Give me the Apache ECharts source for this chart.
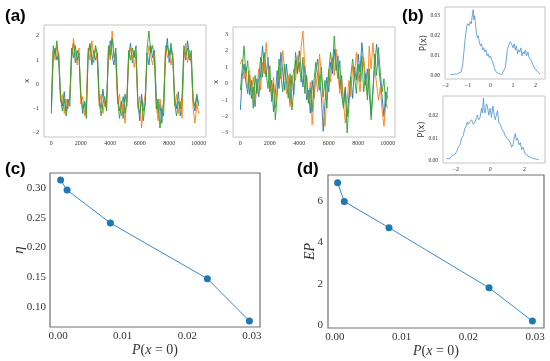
<!DOCTYPE html>
<html><head><meta charset="utf-8">
<script src="https://cdn.jsdelivr.net/npm/echarts@6/dist/echarts.min.js"></script>
<style>html,body{margin:0;padding:0;background:#fff}#c{width:550px;height:361px}</style>
</head><body><div id="c"></div>
<script>
// ---- (a) time series, sampled every tStep steps ----
const tStep = 125;
const leftBlue = [-1.2,1.1,1.5,1.0,1.3,-0.5,-0.9,-0.3,-1.1,-0.6,-0.9,1.3,1.7,0.9,1.4,1.1,-0.4,-1.2,-0.7,-1.0,1.2,1.6,0.8,1.4,1.0,1.3,-0.6,-1.0,-0.2,-0.9,-0.6,1.1,1.8,1.2,0.8,1.5,-0.5,-1.1,-0.7,-1.4,-0.4,-0.9,1.2,1.7,0.9,1.4,1.0,-0.7,-1.5,-0.4,-1.1,-0.8,1.3,0.8,1.6,1.1,1.4,-0.5,-1.2,-0.8,-1.6,-0.6,1.2,1.9,0.9,1.5,1.1,-0.6,-1.0,-0.3,-1.3,-0.8,1.4,1.0,1.8,1.2,0.9,-0.7,-1.1,-0.5,-0.9];
const leftOrange = [-0.7,1.4,1.0,1.6,1.2,-0.7,-0.4,-1.2,-0.6,-1.0,-0.5,1.0,1.9,1.3,0.8,1.5,-0.8,-0.5,-1.3,-0.6,1.5,1.0,1.8,1.1,1.5,0.9,-0.9,-0.4,-1.2,-0.7,-1.0,1.4,1.0,2.2,1.3,0.9,-0.8,-0.4,-1.3,-0.8,-1.6,-0.6,1.0,1.5,1.2,0.7,1.3,-1.0,-0.5,-1.8,-0.9,-0.4,1.0,1.6,1.2,0.8,1.3,-0.9,-1.5,-0.6,-1.1,-0.8,1.6,1.1,1.4,0.8,1.3,-0.9,-0.4,-1.2,-0.7,-1.4,1.1,1.7,0.9,1.4,1.0,-1.0,-1.6,-0.8,-1.2];
const leftGreen = [-0.9,1.6,1.2,1.8,0.9,-0.6,-1.1,-0.6,-1.3,-0.8,-0.6,1.5,1.1,1.6,1.0,1.3,-0.5,-1.0,-0.8,-1.4,1.3,1.7,1.1,0.9,1.6,1.2,-0.7,-1.3,-0.8,-0.5,-1.1,1.6,1.2,1.9,1.1,1.3,-0.6,-1.4,-0.9,-0.5,-1.2,-0.7,1.4,1.0,1.5,1.1,1.6,-0.8,-1.2,-0.6,-1.5,-0.7,1.5,2.2,1.3,1.6,1.0,-1.0,-0.6,-1.8,-1.0,-1.3,1.3,1.6,1.2,1.7,1.0,-0.8,-1.3,-0.7,-1.0,-0.5,1.6,1.2,1.5,1.0,1.4,-0.6,-0.9,-0.4,-0.8];
const rightBlue = [-1.6,0.4,1.2,0.1,-0.6,0.5,-0.9,-0.2,-1.4,0.3,-0.8,0.6,2.3,1.1,0.4,1.6,-0.5,0.2,-1.7,-0.6,0.8,-0.3,1.9,0.7,-0.4,1.2,0.1,-1.2,0.5,-0.7,1.4,0.6,2.0,0.9,-0.2,1.1,-1.0,-0.4,-1.8,0.2,-0.9,0.7,1.5,0.3,-0.8,-2.9,-1.1,0.4,-0.5,1.3,0.6,2.1,0.8,1.7,-0.3,0.5,-1.3,-0.2,-2.0,-0.7,0.4,-0.9,1.0,0.2,1.8,0.7,2.5,1.2,-0.1,0.9,-0.6,-1.9,-0.4,1.1,2.4,1.3,0.1,-0.8,-2.0,-0.5,-0.9];
const rightOrange = [1.2,1.5,0.3,1.0,-0.3,0.8,-0.5,0.4,-1.1,-0.2,0.9,-0.4,1.3,0.6,2.5,1.0,0.2,-0.8,0.4,-1.5,-0.3,1.0,0.3,2.0,0.8,-0.6,0.5,-1.4,-0.3,0.9,0.2,1.7,0.7,2.2,3.2,1.0,0.3,-1.1,0.1,-2.5,-0.9,0.5,-0.5,1.8,0.6,-1.2,-2.6,-0.7,0.9,0.1,1.6,0.5,2.1,0.7,-0.6,0.3,-1.1,-2.4,-1.0,0.2,-0.8,1.1,0.4,1.9,0.6,-0.5,0.8,1.6,0.3,-0.7,2.3,0.9,2.5,1.0,0.0,-1.0,-0.2,-1.6,-2.6,-1.2,-1.5];
const rightGreen = [-0.4,0.9,2.3,0.6,1.4,-0.7,0.2,-1.5,0.5,-0.6,0.3,1.6,0.4,1.9,0.7,-0.3,1.1,-1.1,0.0,-2.2,-0.7,1.5,0.5,-0.5,1.2,0.2,-0.9,0.6,-1.6,-0.4,1.9,0.8,1.3,0.1,1.6,-0.6,0.5,-1.2,-0.3,-1.7,0.2,1.3,0.5,-0.4,1.0,-0.8,0.2,-1.5,0.7,1.9,0.9,2.9,1.2,0.3,1.4,-0.7,-1.5,-0.3,-3.0,-1.2,0.5,1.5,0.4,-0.6,1.2,0.1,1.7,-0.5,0.6,-1.0,0.9,-2.2,-0.6,1.8,0.5,2.2,0.7,-0.5,0.3,-1.4,-0.2];

// ---- (b) distributions ----
const pTopX = [-1.78,-1.6,-1.5,-1.4,-1.3,-1.23,-1.18,-1.12,-1.05,-1.0,-0.95,-0.9,-0.85,-0.8,-0.77,-0.74,-0.7,-0.66,-0.62,-0.58,-0.54,-0.5,-0.45,-0.4,-0.35,-0.3,-0.25,-0.2,-0.15,-0.1,-0.05,0.0,0.05,0.1,0.15,0.2,0.25,0.3,0.4,0.5,0.58,0.65,0.7,0.75,0.8,0.87,0.93,1.0,1.05,1.1,1.15,1.2,1.25,1.3,1.35,1.4,1.45,1.5,1.55,1.6,1.66,1.72,1.8,1.87,1.95,2.02,2.1,2.2];
const pTopY = [0.0005,0.001,0.0008,0.0015,0.002,0.006,0.012,0.019,0.025,0.026,0.025,0.027,0.026,0.031,0.033,0.028,0.030,0.025,0.021,0.019,0.020,0.017,0.015,0.016,0.013,0.014,0.012,0.013,0.010,0.011,0.009,0.010,0.008,0.007,0.005,0.003,0.002,0.0015,0.001,0.0008,0.0012,0.004,0.008,0.013,0.015,0.017,0.016,0.014,0.016,0.013,0.015,0.011,0.013,0.012,0.014,0.010,0.012,0.011,0.013,0.010,0.012,0.009,0.008,0.006,0.004,0.0045,0.002,0.001];
const pBotX = [-2.55,-2.45,-2.35,-2.25,-2.15,-2.05,-1.96,-1.86,-1.76,-1.66,-1.57,-1.49,-1.41,-1.34,-1.27,-1.18,-1.08,-0.98,-0.88,-0.8,-0.75,-0.67,-0.59,-0.5,-0.45,-0.39,-0.34,-0.29,-0.22,-0.16,-0.08,0.0,0.08,0.16,0.22,0.29,0.36,0.43,0.5,0.59,0.68,0.78,0.88,0.98,1.08,1.18,1.25,1.33,1.4,1.47,1.53,1.6,1.68,1.76,1.84,1.92,2.0,2.06,2.15,2.25,2.4,2.55,2.7,2.84];
const pBotY = [0.001,0.0015,0.001,0.002,0.0018,0.003,0.004,0.006,0.007,0.010,0.011,0.014,0.015,0.017,0.016,0.017,0.018,0.016,0.017,0.019,0.020,0.018,0.019,0.023,0.021,0.0275,0.022,0.021,0.025,0.024,0.020,0.023,0.019,0.024,0.021,0.018,0.020,0.022,0.017,0.016,0.014,0.013,0.011,0.010,0.009,0.008,0.006,0.007,0.010,0.012,0.009,0.010,0.007,0.008,0.005,0.006,0.004,0.003,0.0025,0.002,0.0015,0.001,0.0008,0.0005];

// ---- (c), (d) ----
const pZero = [0.0004,0.0014,0.0081,0.0231,0.0296];
const etaVals = [0.3134,0.2966,0.2411,0.1476,0.0765];
const epVals = [6.88,5.98,4.71,1.80,0.19];

// ---- tick labels ----
const aLeftYTicks = [-2,-1,0,1,2];
const aRightYTicks = [-3,-2,-1,0,1,2,3];
const aXTicks = [0,2000,4000,6000,8000,10000];
const bTopXTicks = [-2,-1,0,1,2];
const bTopYTicks = [0.00,0.01,0.02,0.03];
const bBotXTicks = [-2,0,2];
const bBotYTicks = [0.00,0.01,0.02];
const cdXTicks = [0.00,0.01,0.02,0.03];
const cYTicks = [0.10,0.15,0.20,0.25,0.30];
const dYTicks = [0,2,4,6];

const pairsT = arr => arr.map((v,i)=>[i*tStep, v]);
const zip = (xs,ys) => xs.map((x,i)=>[x, ys[i]]);
const minus = v => (v<0?'\u2212':'') + Math.abs(v);

const serif = 'Liberation Serif';
const sans = 'DejaVu Sans';
const C0='#1f77b4', C1='#ff7f0e', C2='#2ca02c';

function ax(opt){
  return Object.assign({
    type:'value', axisLine:{show:false}, axisTick:{show:false}, splitLine:{show:false},
  }, opt);
}
function lbl(vals, fmt, size, margin, color){
  return {customValues: vals, formatter: fmt, fontSize: size, fontFamily: serif, color: color||'#333', margin: margin};
}

const grids = [
  {left:44, top:25, width:162, height:112, show:true, borderColor:'#c4c4c4', borderWidth:1},
  {left:233, top:27, width:162, height:110, show:true, borderColor:'#c4c4c4', borderWidth:1},
  {left:445, top:7, width:100, height:72, show:true, borderColor:'#c4c4c4', borderWidth:1},
  {left:443, top:96, width:102, height:67, show:true, borderColor:'#c4c4c4', borderWidth:1},
  {left:50, top:173, width:210, height:154, show:true, borderColor:'#707070', borderWidth:1.2},
  {left:328, top:175, width:216, height:153, show:true, borderColor:'#707070', borderWidth:1.2},
];

const xName = {fontFamily: serif, fontSize: 14, color:'#333', rich:{i:{fontFamily: serif, fontStyle:'italic', fontSize:14, color:'#333'}}};

const option = {
  animation:false,
  backgroundColor:'#fff',
  grid: grids,
  xAxis: [
    ax({gridIndex:0, min:-500, max:10500, axisLabel: lbl(aXTicks, v=>String(v), 6, 3)}),
    ax({gridIndex:1, min:-500, max:10500, axisLabel: lbl(aXTicks, v=>String(v), 6, 3)}),
    ax({gridIndex:2, min:-2.02, max:2.42, axisLabel: lbl(bTopXTicks, minus, 6, 3)}),
    ax({gridIndex:3, min:-2.75, max:3.2, axisLabel: lbl(bBotXTicks, minus, 6, 3)}),
    ax({gridIndex:4, min:-0.00124, max:0.03124, axisLabel: lbl(cdXTicks, v=>v.toFixed(2), 11, 4),
        name:'{i|P}({i|x} = 0)', nameLocation:'middle', nameGap:15, nameTextStyle:xName}),
    ax({gridIndex:5, min:-0.00104, max:0.03134, axisLabel: lbl(cdXTicks, v=>v.toFixed(2), 11, 4),
        name:'{i|P}({i|x} = 0)', nameLocation:'middle', nameGap:15, nameTextStyle:xName}),
  ],
  yAxis: [
    ax({gridIndex:0, min:-2.17, max:2.45, axisLabel: lbl(aLeftYTicks, minus, 6, 5),
        name:'x', nameLocation:'middle', nameGap:13, nameMoveOverlap:false, nameRotate:90, nameTextStyle:{fontFamily:sans, fontSize:7, color:'#333'}}),
    ax({gridIndex:1, min:-3.25, max:3.45, axisLabel: lbl(aRightYTicks, minus, 6, 5),
        name:'x', nameLocation:'middle', nameGap:13, nameMoveOverlap:false, nameRotate:90, nameTextStyle:{fontFamily:sans, fontSize:7, color:'#333'}}),
    ax({gridIndex:2, min:-0.0015, max:0.0343, axisLabel: lbl(bTopYTicks, v=>v.toFixed(2), 5.5, 5),
        name:'P(x)', nameLocation:'middle', nameGap:17, nameMoveOverlap:false, nameRotate:90, nameTextStyle:{fontFamily:sans, fontSize:8, color:'#333'}}),
    ax({gridIndex:3, min:-0.0009, max:0.0284, axisLabel: lbl(bBotYTicks, v=>v.toFixed(2), 5.5, 5),
        name:'P(x)', nameLocation:'middle', nameGap:17, nameMoveOverlap:false, nameRotate:90, nameTextStyle:{fontFamily:sans, fontSize:8, color:'#333'}}),
    ax({gridIndex:4, min:0.0664, max:0.3252, axisLabel: lbl(cYTicks, v=>v.toFixed(2), 11, 4),
        name:'\u03b7', nameLocation:'middle', nameGap:23, nameMoveOverlap:false, nameRotate:90, nameTextStyle:{fontFamily:serif, fontStyle:'italic', fontSize:15, color:'#333'}}),
    ax({gridIndex:5, min:-0.145, max:7.26, axisLabel: lbl(dYTicks, v=>String(v), 11, 5),
        name:'EP', nameLocation:'middle', nameGap:11, nameMoveOverlap:false, nameRotate:90, nameTextStyle:{fontFamily:serif, fontStyle:'italic', fontSize:14, color:'#333'}}),
  ],
  series: [
    {type:'line', xAxisIndex:0, yAxisIndex:0, data:pairsT(leftBlue), showSymbol:false, lineStyle:{color:C0, width:0.9}},
    {type:'line', xAxisIndex:0, yAxisIndex:0, data:pairsT(leftOrange), showSymbol:false, lineStyle:{color:C1, width:0.9}},
    {type:'line', xAxisIndex:0, yAxisIndex:0, data:pairsT(leftGreen), showSymbol:false, lineStyle:{color:C2, width:0.9}},
    {type:'line', xAxisIndex:1, yAxisIndex:1, data:pairsT(rightBlue), showSymbol:false, lineStyle:{color:C0, width:0.9}},
    {type:'line', xAxisIndex:1, yAxisIndex:1, data:pairsT(rightOrange), showSymbol:false, lineStyle:{color:C1, width:0.9}},
    {type:'line', xAxisIndex:1, yAxisIndex:1, data:pairsT(rightGreen), showSymbol:false, lineStyle:{color:C2, width:0.9}},
    {type:'line', xAxisIndex:2, yAxisIndex:2, data:zip(pTopX,pTopY), showSymbol:false, lineStyle:{color:'#4a90cf', width:0.8}},
    {type:'line', xAxisIndex:3, yAxisIndex:3, data:zip(pBotX,pBotY), showSymbol:false, lineStyle:{color:'#4a90cf', width:0.8}},
    {type:'line', xAxisIndex:4, yAxisIndex:4, data:zip(pZero,etaVals), symbol:'circle', symbolSize:7,
      itemStyle:{color:C0}, lineStyle:{color:'#3f8ac6', width:1}},
    {type:'line', xAxisIndex:5, yAxisIndex:5, data:zip(pZero,epVals), symbol:'circle', symbolSize:7,
      itemStyle:{color:C0}, lineStyle:{color:'#3f8ac6', width:1}},
  ],
  graphic: [
    {type:'text', left:5, top:8, style:{text:'(a)', font:'bold 17px "Liberation Sans"', fill:'#000'}},
    {type:'text', left:402, top:8, style:{text:'(b)', font:'bold 17px "Liberation Sans"', fill:'#000'}},
    {type:'text', left:5, top:161, style:{text:'(c)', font:'bold 17px "Liberation Sans"', fill:'#000'}},
    {type:'text', left:297, top:161, style:{text:'(d)', font:'bold 17px "Liberation Sans"', fill:'#000'}},
  ]
};
const chart = echarts.init(document.getElementById('c'), null, {renderer:'canvas'});
chart.setOption(option);
</script></body></html>
